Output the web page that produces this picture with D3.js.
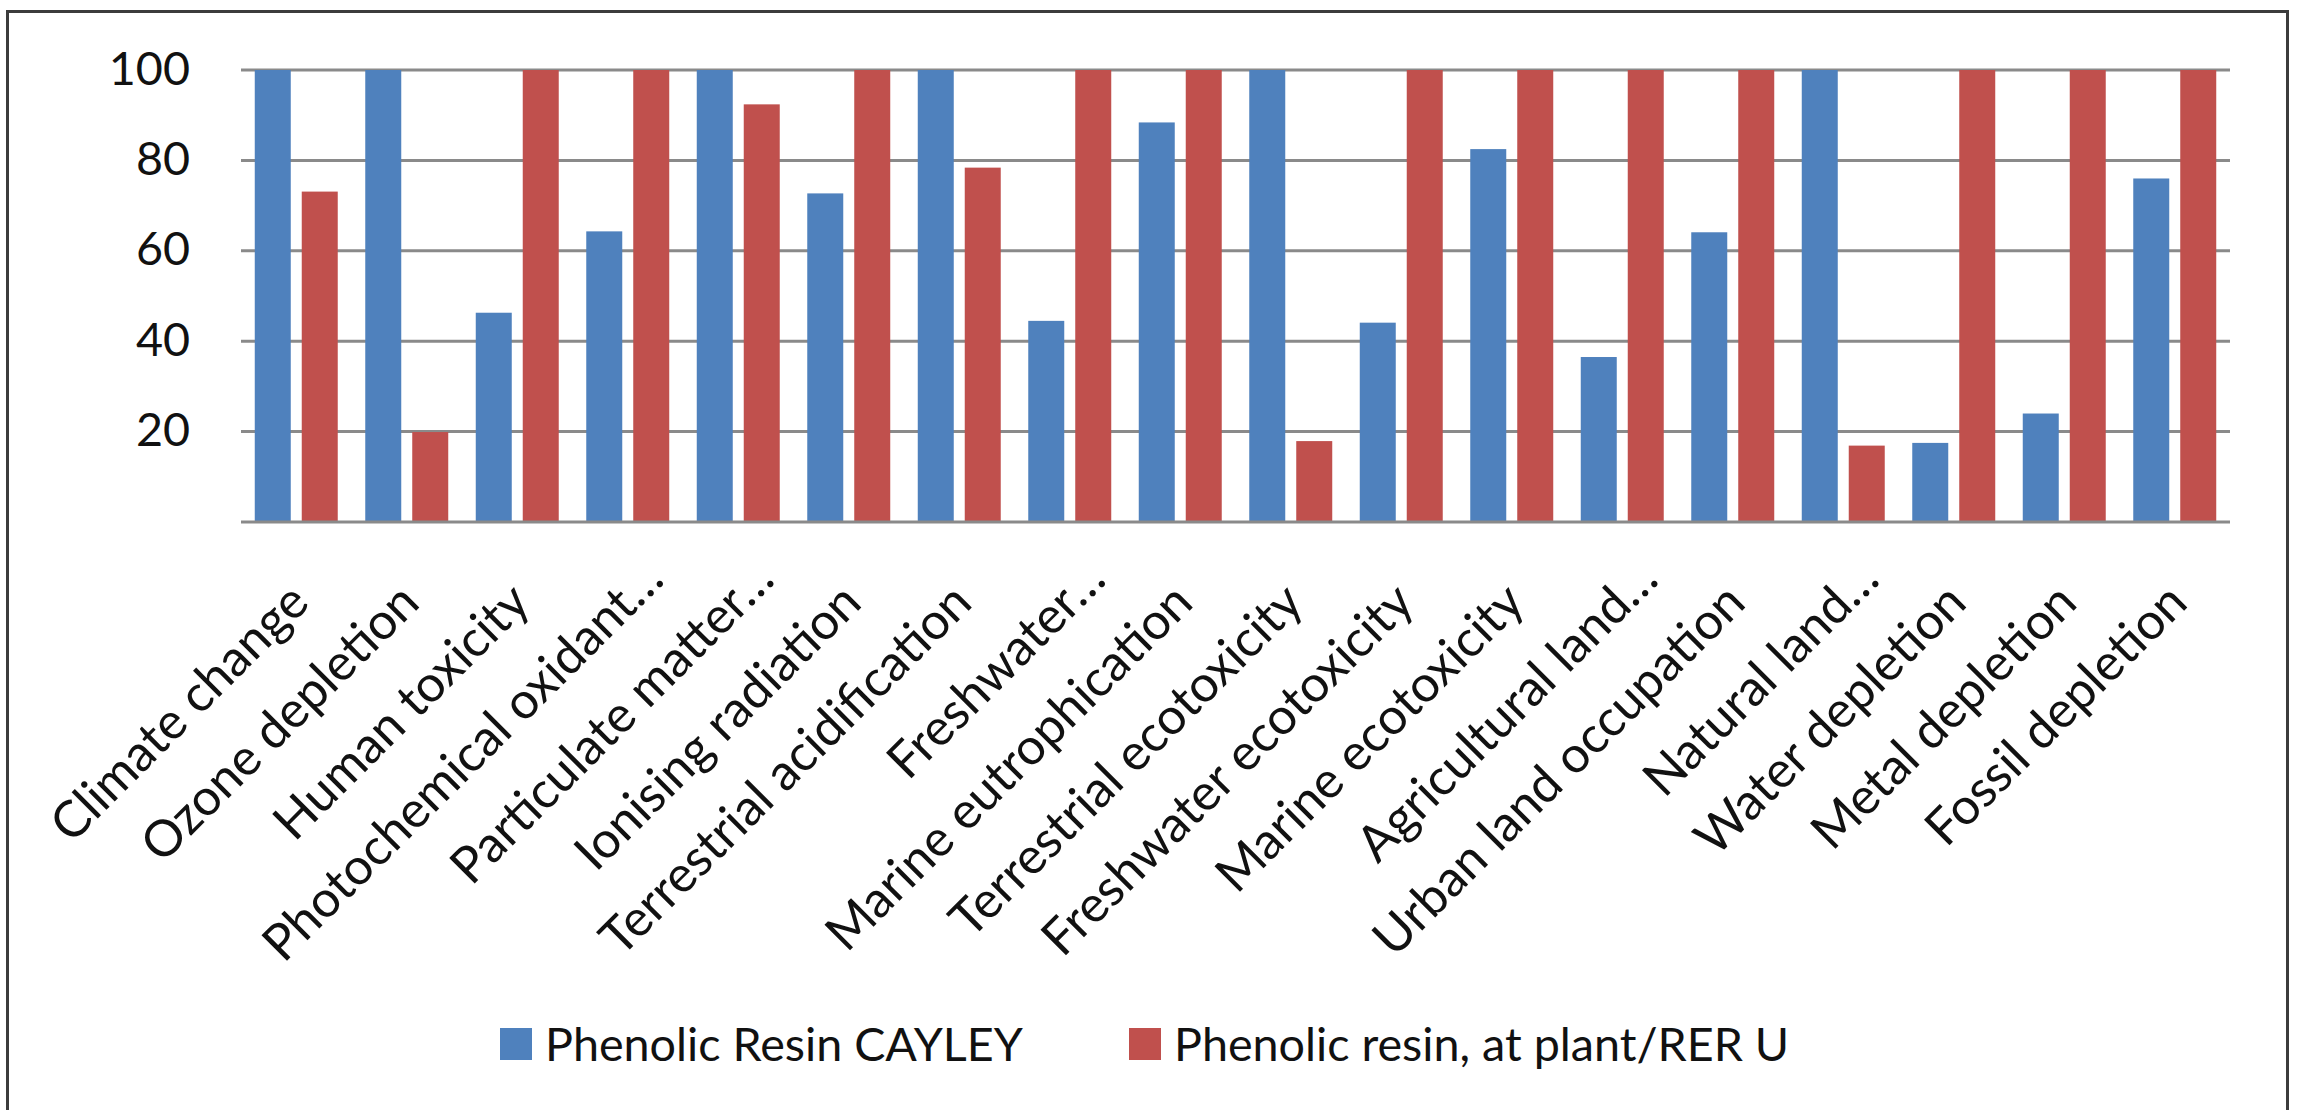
<!DOCTYPE html>
<html>
<head>
<meta charset="utf-8">
<script src="https://cdn.jsdelivr.net/npm/d3@7"></script>
<style>
  html, body { margin: 0; padding: 0; background: #ffffff; }
  svg { display: block; }
  text { font-family: Lato, "Open Sans", sans-serif; fill: #111; }
</style>
</head>
<body>
<svg id="chart" width="2304" height="1110"></svg>
<script>
// Impact categories (ReCiPe midpoint), relative results in %
const categories = [
  "Climate change", "Ozone depletion", "Human toxicity",
  "Photochemical oxidant formation", "Particulate matter formation",
  "Ionising radiation", "Terrestrial acidification",
  "Freshwater eutrophication", "Marine eutrophication",
  "Terrestrial ecotoxicity", "Freshwater ecotoxicity", "Marine ecotoxicity",
  "Agricultural land occupation", "Urban land occupation",
  "Natural land transformation", "Water depletion", "Metal depletion",
  "Fossil depletion"
];
// Axis labels as printed (long names shortened with an ellipsis)
const categoryLabels = [
  "Climate change", "Ozone depletion", "Human toxicity",
  "Photochemical oxidant…", "Particulate matter…",
  "Ionising radiation", "Terrestrial acidification",
  "Freshwater…", "Marine eutrophication",
  "Terrestrial ecotoxicity", "Freshwater ecotoxicity", "Marine ecotoxicity",
  "Agricultural land…", "Urban land occupation",
  "Natural land…", "Water depletion", "Metal depletion",
  "Fossil depletion"
];
const seriesNames = ["Phenolic Resin CAYLEY", "Phenolic resin, at plant/RER U"];
const cayley = [100, 100, 46.3, 64.3, 100, 72.7, 100, 44.5, 88.4, 100, 44.1, 82.5, 36.5, 64.1, 100, 17.5, 24.0, 76.0];
const rerU   = [73.1, 19.9, 100, 100, 92.4, 100, 78.4, 100, 100, 17.9, 100, 100, 100, 100, 16.9, 100, 100, 100];
const yTicks = [20, 40, 60, 80, 100];
const colors = ["#4F81BD", "#C0504D"];

const svg = d3.select("#chart");

// Outer frame
svg.append("rect")
  .attr("x", 7.5).attr("y", 11.5)
  .attr("width", 2280).attr("height", 1200)
  .attr("fill", "#ffffff")
  .attr("stroke", "#3c3c3c").attr("stroke-width", 3);

// Text size: fit the font so the legend entry has its printed width
const probe = svg.append("text").attr("font-size", 52).text(seriesNames[0]);
const fs = 52 * 478 / probe.node().getComputedTextLength();
probe.remove();
const fsCat = fs * 1.08;

const plot = { left: 241, right: 2230, top: 70, bottom: 522 };

const x0 = d3.scaleBand().domain(categories).range([plot.left, plot.right]).padding(0);
const bw = x0.bandwidth();
const x1 = d3.scaleBand().domain(seriesNames)
  .range([bw * 0.1245, bw * 0.8755]).paddingInner(0.234).paddingOuter(0);
const y = d3.scaleLinear().domain([0, 100]).range([plot.bottom, plot.top]);

// Horizontal gridlines
svg.append("g")
  .selectAll("line").data(yTicks).join("line")
  .attr("x1", plot.left).attr("x2", plot.right)
  .attr("y1", d => y(d)).attr("y2", d => y(d))
  .attr("stroke", "#8a8a8a").attr("stroke-width", 3);

// Value axis labels
const yAxis = d3.axisLeft(y).tickValues(yTicks).tickSize(0).tickPadding(0);
const gy = svg.append("g").attr("transform", `translate(190,0)`).call(yAxis);
gy.select(".domain").remove();
gy.selectAll("text")
  .attr("font-size", fs).attr("font-family", "Lato, sans-serif")
  .attr("fill", "#111").attr("dy", "0.3em");

// Bars
const rows = categories.map((c, i) => ({ c, vals: [cayley[i], rerU[i]] }));
const groups = svg.append("g").selectAll("g").data(rows).join("g")
  .attr("transform", d => `translate(${x0(d.c)},0)`);
groups.selectAll("rect")
  .data(d => d.vals.map((v, k) => ({ s: seriesNames[k], v, k })))
  .join("rect")
  .attr("x", d => x1(d.s))
  .attr("width", x1.bandwidth())
  .attr("y", d => y(d.v))
  .attr("height", d => y(0) - y(d.v))
  .attr("fill", d => colors[d.k]);

// Category axis line
svg.append("line")
  .attr("x1", plot.left).attr("x2", plot.right)
  .attr("y1", y(0)).attr("y2", y(0))
  .attr("stroke", "#8a8a8a").attr("stroke-width", 3);

// Rotated category labels; shortened labels run a little further along their line
svg.append("g").selectAll("text").data(categories).join("text")
  .attr("font-size", fsCat)
  .attr("text-anchor", "end")
  .attr("transform", c => `translate(${x0(c) + bw / 2 + 15},${plot.bottom + 83}) rotate(-45)`)
  .attr("x", (c, i) => categoryLabels[i].endsWith("…") ? 33 : 0)
  .text((c, i) => categoryLabels[i]);

// Legend
const legendX = [500, 1129];
const items = svg.append("g").attr("transform", "translate(0,1061)")
  .selectAll("g").data(seriesNames).join("g")
  .attr("transform", (d, i) => `translate(${legendX[i]},0)`);
items.append("rect").attr("width", 32).attr("height", 32).attr("y", -33)
  .attr("fill", (d, i) => colors[i]);
items.append("text").attr("x", 45).attr("font-size", fs).text(d => d);
</script>
</body>
</html>
